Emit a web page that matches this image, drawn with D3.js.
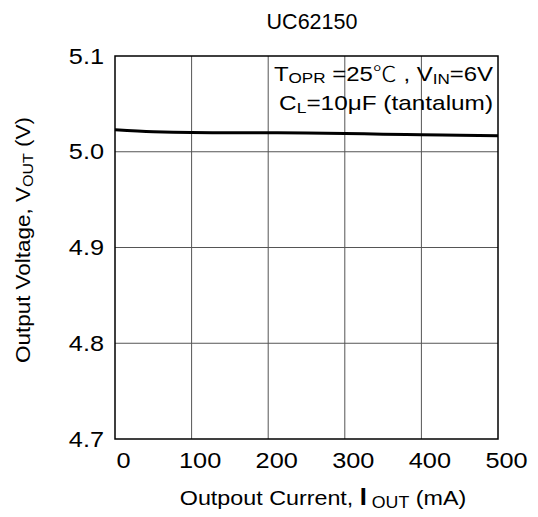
<!DOCTYPE html>
<html><head><meta charset="utf-8">
<script src="https://cdn.jsdelivr.net/npm/d3@7"></script>
<style>body{margin:0;background:#fff}text{font-family:Arial,"Liberation Sans",sans-serif;fill:#000}</style>
</head><body><svg id="c" width="538" height="517"></svg>
<script>
const currents = [0, 50, 100, 150, 200, 250, 300, 350, 400, 450, 500];
const voltages = [5.0230, 5.0209, 5.0200, 5.0199, 5.0199, 5.0196, 5.0190, 5.0184, 5.0178, 5.0173, 5.0168];
const xTicks = [0, 100, 200, 300, 400, 500];
const yTicks = [4.7, 4.8, 4.9, 5.0, 5.1];
const yTickLabels = ["4.7", "4.8", "4.9", "5.0", "5.1"];

const svg = d3.select("#c");
const L = 115, R = 498, T = 56, B = 439;
const x = d3.scaleLinear().domain([0, 500]).range([L, R]);
const y = d3.scaleLinear().domain([4.7, 5.1]).range([B, T]);
const SX = 1.15;

// grid
svg.append("g").selectAll("line").data(xTicks.slice(1, -1)).join("line")
  .attr("x1", d => x(d)).attr("x2", d => x(d)).attr("y1", T).attr("y2", B)
  .attr("stroke", "#555").attr("stroke-width", 1);
svg.append("g").selectAll("line").data(yTicks.slice(1, -1)).join("line")
  .attr("y1", d => y(d)).attr("y2", d => y(d)).attr("x1", L).attr("x2", R)
  .attr("stroke", "#555").attr("stroke-width", 1);

// frame
svg.append("rect").attr("x", L).attr("y", T).attr("width", R - L).attr("height", B - T)
  .attr("fill", "none").attr("stroke", "#000").attr("stroke-width", 1.5);

// axes
const xAxis = svg.append("g").attr("transform", `translate(0,${B})`)
  .call(d3.axisBottom(x).tickValues(xTicks).tickSize(0).tickPadding(13).tickFormat(d3.format("d")));
xAxis.select(".domain").remove();
xAxis.selectAll("text").attr("font-size", 22).attr("x", 8 / SX)
  .attr("transform", `scale(${SX},1)`)
  .style("font-family", "Arial, 'Liberation Sans', sans-serif");

const yAxis = svg.append("g").attr("transform", `translate(${L},0)`)
  .call(d3.axisLeft(y).tickValues(yTicks).tickSize(0).tickFormat((d, i) => yTickLabels[i]));
yAxis.select(".domain").remove();
yAxis.selectAll("text").attr("font-size", 22).attr("x", -11 / SX)
  .attr("transform", `scale(${SX},1)`)
  .style("font-family", "Arial, 'Liberation Sans', sans-serif");

// data line
svg.append("path").datum(currents.map((c, i) => [c, voltages[i]]))
  .attr("d", d3.line().x(d => x(d[0])).y(d => y(d[1])).curve(d3.curveMonotoneX))
  .attr("fill", "none").attr("stroke", "#000").attr("stroke-width", 3);

// title
svg.append("text").attr("transform", "translate(312,29)").attr("text-anchor", "middle")
  .attr("font-size", 21.5).text("UC62150");

// annotation
const a1 = svg.append("text").attr("transform", `translate(493,81) scale(1.14,1)`)
  .attr("text-anchor", "end").attr("font-size", 21);
a1.append("tspan").text("T");
a1.append("tspan").attr("font-size", 15).attr("dy", 2).text("OPR");
a1.append("tspan").attr("dy", -2).text(" =25");
a1.append("tspan").style("font-family", "'Noto Sans CJK JP'").attr("font-weight", 300).text("℃");
a1.append("tspan").text(" , V");
a1.append("tspan").attr("font-size", 15).attr("dy", 3).text("IN");
a1.append("tspan").attr("dy", -3).text("=6V");
const a2 = svg.append("text").attr("transform", `translate(493,110) scale(1.16,1)`)
  .attr("text-anchor", "end").attr("font-size", 21);
a2.append("tspan").text("C");
a2.append("tspan").attr("font-size", 15).attr("dy", 3).text("L");
a2.append("tspan").attr("dy", -3).text("=10μF (tantalum)");

// x title
const xt = svg.append("text").attr("transform", `translate(323,505) scale(1.11,1)`)
  .attr("text-anchor", "middle").attr("font-size", 21);
xt.append("tspan").text("Outpout Current, ");
xt.append("tspan").attr("font-weight", "bold").attr("font-size", 23).text("I");
xt.append("tspan").attr("font-size", 16).attr("dy", 3).text(" OUT");
xt.append("tspan").attr("dy", -3).text(" (mA)");

// y title
const yt = svg.append("text").attr("transform", "translate(30,240) rotate(-90) scale(1.07,1)")
  .attr("text-anchor", "middle").attr("font-size", 21);
yt.append("tspan").text("Output Voltage,  V");
yt.append("tspan").attr("font-size", 15).attr("dy", 3).text("OUT");
yt.append("tspan").attr("dy", -3).text(" (V)");
</script></body></html>
